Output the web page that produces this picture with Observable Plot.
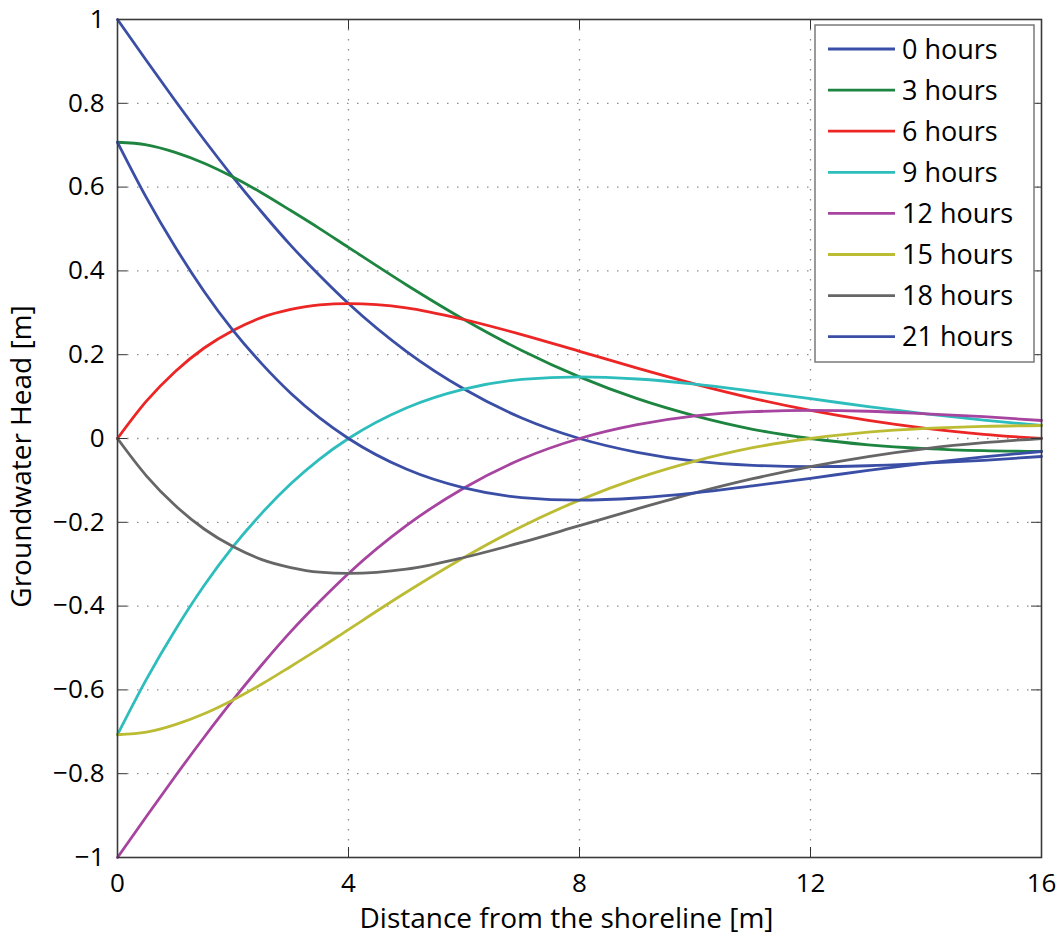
<!DOCTYPE html>
<html>
<head>
<meta charset="utf-8">
<script src="https://cdn.jsdelivr.net/npm/d3@7"></script>
<script src="https://cdn.jsdelivr.net/npm/@observablehq/plot@0.6"></script>
<style>
  html, body { margin: 0; padding: 0; background: #fff; }
  #chart svg { display: block; }
</style>
</head>
<body>
<div id="chart"></div>
<script>
// Distance from the shoreline (m)
const distance = [0, 0.5, 1, 1.5, 2, 2.5, 3, 3.5, 4, 5, 6, 7, 8, 9, 10, 11, 12, 13, 14, 15, 16];

// Groundwater head (m) at each distance, one array per time of the tidal cycle
const head0h  = [1, 0.902, 0.806, 0.713, 0.624, 0.540, 0.461, 0.389, 0.322, 0.208, 0.118, 0.049, 0, -0.033, -0.054, -0.064, -0.067, -0.065, -0.059, -0.052, -0.043];
const head3h  = [0.707, 0.701, 0.683, 0.657, 0.624, 0.586, 0.544, 0.501, 0.456, 0.367, 0.284, 0.210, 0.147, 0.095, 0.054, 0.022, 0, -0.015, -0.024, -0.029, -0.031];
const head6h  = [0, 0.089, 0.160, 0.216, 0.258, 0.289, 0.308, 0.319, 0.322, 0.312, 0.284, 0.248, 0.208, 0.168, 0.130, 0.096, 0.067, 0.043, 0.024, 0.010, 0];
const head9h  = [-0.707, -0.575, -0.457, -0.351, -0.258, -0.178, -0.108, -0.049, 0, 0.073, 0.118, 0.141, 0.147, 0.142, 0.130, 0.113, 0.095, 0.076, 0.059, 0.044, 0.031];
const head12h = [-1, -0.902, -0.806, -0.713, -0.624, -0.540, -0.461, -0.389, -0.322, -0.208, -0.118, -0.049, 0, 0.033, 0.054, 0.064, 0.067, 0.065, 0.059, 0.052, 0.043];
const head15h = [-0.707, -0.701, -0.683, -0.657, -0.624, -0.586, -0.544, -0.501, -0.456, -0.367, -0.284, -0.210, -0.147, -0.095, -0.054, -0.022, 0, 0.015, 0.024, 0.029, 0.031];
const head18h = [0, -0.089, -0.160, -0.216, -0.258, -0.289, -0.308, -0.319, -0.322, -0.312, -0.284, -0.248, -0.208, -0.168, -0.130, -0.096, -0.067, -0.043, -0.024, -0.010, 0];
const head21h = [0.707, 0.575, 0.457, 0.351, 0.258, 0.178, 0.108, 0.049, 0, -0.073, -0.118, -0.141, -0.147, -0.142, -0.130, -0.113, -0.095, -0.076, -0.059, -0.044, -0.031];

const seriesLabels = ["0 hours", "3 hours", "6 hours", "9 hours", "12 hours", "15 hours", "18 hours", "21 hours"];
const seriesColors = ["#3a4ea6", "#1d8540", "#ec2525", "#2dbdbd", "#a6449f", "#bcbc34", "#666666", "#3a4ea6"];
const seriesValues = [head0h, head3h, head6h, head9h, head12h, head15h, head18h, head21h];

const xTicks = [0, 4, 8, 12, 16];
const yTicks = [-1, -0.8, -0.6, -0.4, -0.2, 0, 0.2, 0.4, 0.6, 0.8, 1];

const xLabel = "Distance from the shoreline [m]";
const yLabel = "Groundwater Head [m]";

// Long-format table for Plot
const rows = seriesLabels.flatMap((label, i) =>
  distance.map((d, j) => ({series: label, distance: d, head: seriesValues[i][j]}))
);

const W = 1061, H = 937;
const mL = 117, mR = 20, mT = 19, mB = 80;
const innerW = W - mL - mR, innerH = H - mT - mB;
const tickLen = 10;
const font = "'Open Sans', 'Liberation Sans', sans-serif";
const fmt = d => d < 0 ? "\u2212" + Math.abs(d) : String(d);
const gridStyle = {stroke: "#8c8c8c", strokeOpacity: 1, strokeWidth: 1.3, strokeDasharray: "1.5,8.5"};

const plot = Plot.plot({
  width: W,
  height: H,
  marginLeft: mL,
  marginRight: mR,
  marginTop: mT,
  marginBottom: mB,
  style: {fontFamily: font, fontSize: "26px", color: "#000", background: "#fff"},
  x: {domain: [0, 16]},
  y: {domain: [-1, 1]},
  color: {domain: seriesLabels, range: seriesColors},
  marks: [
    Plot.gridX(xTicks.slice(1, -1), gridStyle),
    Plot.gridY(yTicks.slice(1, -1), gridStyle),
    Plot.line(rows, {x: "distance", y: "head", stroke: "series", curve: "monotone-x", strokeWidth: 2.8}),
    // inward ticks on all four sides of the box
    Plot.tickY(yTicks, {y: d => d, insetRight: innerW - tickLen, stroke: "#333"}),
    Plot.tickY(yTicks, {y: d => d, insetLeft: innerW - tickLen, stroke: "#333"}),
    Plot.tickX(xTicks, {x: d => d, insetTop: innerH - tickLen, stroke: "#333"}),
    Plot.tickX(xTicks, {x: d => d, insetBottom: innerH - tickLen, stroke: "#333"}),
    Plot.frame({stroke: "#3a3a3a", strokeWidth: 1.6}),
    Plot.axisX(xTicks, {tickSize: 0, tickPadding: 16, tickFormat: fmt, label: null, fontSize: 26}),
    Plot.axisY(yTicks, {tickSize: 0, tickPadding: 13, tickFormat: fmt, label: null, fontSize: 26}),
    Plot.text([xLabel], {text: d => d, frameAnchor: "bottom", textAnchor: "middle", dx: -13, dy: 70, lineAnchor: "bottom", fontSize: 28}),
    Plot.text([yLabel], {text: d => d, frameAnchor: "left", textAnchor: "middle", dx: -95, dy: 18, rotate: -90, fontSize: 28})
  ]
});

// Legend box in the upper right corner of the axes
const legend = d3.select(plot).append("g")
  .attr("transform", "translate(815,25)")
  .attr("font-family", font)
  .attr("font-size", 27)
  .attr("text-anchor", "start");
legend.append("rect")
  .attr("width", 219).attr("height", 337)
  .attr("fill", "#fff").attr("stroke", "#7a7a7a").attr("stroke-width", 1.5);
seriesLabels.forEach((label, i) => {
  const cy = 24 + i * 41.1;
  legend.append("line")
    .attr("x1", 13).attr("x2", 80).attr("y1", cy).attr("y2", cy)
    .attr("stroke", seriesColors[i]).attr("stroke-width", 2.8);
  legend.append("text")
    .attr("x", 87).attr("y", cy).attr("dy", "0.36em")
    .attr("fill", "#000")
    .text(label);
});

document.getElementById("chart").appendChild(plot);
</script>
</body>
</html>
